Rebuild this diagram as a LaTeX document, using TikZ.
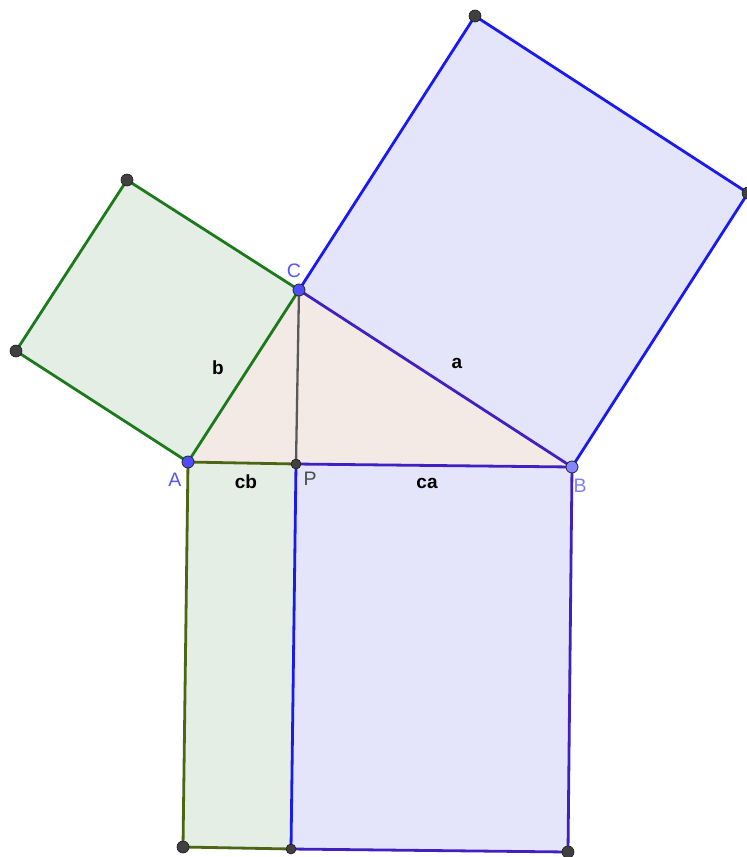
\documentclass[tikz,border=0pt]{standalone}
\usepackage{fontspec}
\setmainfont{Liberation Sans}
\begin{document}
\begin{tikzpicture}[x=1pt,y=-1pt,
  lab/.style={font=\fontsize{19.5}{22}\selectfont, inner sep=0pt},
  slab/.style={font=\fontsize{19}{22}\selectfont\bfseries, inner sep=0pt},
  bpt/.style={circle, fill=#1, draw=black!85, line width=0.8pt, minimum size=12pt, inner sep=0pt},
  gpt/.style={circle, fill=black!75, draw=black!90, line width=0.6pt, minimum size=12pt, inner sep=0pt},
  spt/.style={circle, fill=black!75, draw=black!90, line width=0.6pt, minimum size=10pt, inner sep=0pt},
  edge/.style={line width=2.8pt, line cap=round, line join=round}]
\definecolor{gstroke}{HTML}{1C7A1C}
\definecolor{bstroke}{HTML}{1A1AF0}
\definecolor{pstroke}{HTML}{4020C0}
\definecolor{ostroke}{HTML}{4B6614}
\definecolor{gfill}{HTML}{E4EEE5}
\definecolor{bfill}{HTML}{E4E4FB}
\definecolor{tfill}{HTML}{F3EAE6}
\definecolor{ptblue}{HTML}{4D4DFF}
\definecolor{ptlight}{HTML}{8585FF}
\definecolor{labblue}{HTML}{5555F5}
\definecolor{lablight}{HTML}{8080F5}
\useasboundingbox (0,0) rectangle (747,857);
\clip (0,0) rectangle (747,857);
% points
\coordinate (A) at (188,462);
\coordinate (B) at (572,467);
\coordinate (C) at (299,290);
\coordinate (P) at (296,464);
\coordinate (G1) at (127,180);
\coordinate (G2) at (16,351);
\coordinate (T1) at (475,16);
\coordinate (T2) at (748,193);
\coordinate (Ab) at (183,847);
\coordinate (Pb) at (291,849);
\coordinate (Bb) at (568,852);
% fills
\fill[gfill] (A) -- (C) -- (G1) -- (G2) -- cycle;
\fill[bfill] (C) -- (T1) -- (T2) -- (B) -- cycle;
\fill[tfill] (A) -- (B) -- (C) -- cycle;
\fill[gfill] (A) -- (P) -- (Pb) -- (Ab) -- cycle;
\fill[bfill] (P) -- (B) -- (Bb) -- (Pb) -- cycle;
% edges
\draw[edge, gstroke] (A) -- (C) -- (G1) -- (G2) -- cycle;
\draw[edge, bstroke] (C) -- (T1) -- (T2) -- (B);
\draw[edge, ostroke] (Pb) -- (Ab) -- (A) -- (P);
\draw[edge, pstroke] (P) -- (B) -- (Bb) -- (Pb);
\draw[edge, pstroke] (C) -- (B);
\draw[edge, bstroke] (P) -- (Pb);
\draw[line width=2.3pt, black!65] (C) -- (P);
% dots
\node[gpt] (g1) at (G1) {};
\node[gpt] (g2) at (G2) {};
\node[gpt] (t1) at (T1) {};
\node[gpt] (t2) at (T2) {};
\node[gpt] (ab) at (Ab) {};
\node[gpt] (bb) at (Bb) {};
\node[spt] (pb) at (Pb) {};
\node[spt] (pp) at (P) {};
\node[bpt=ptblue] (aa) at (A) {};
\node[bpt=ptblue] (cc) at (C) {};
\node[bpt=ptlight] (bbb) at (B) {};
% labels
\node[lab, text=labblue] (lA) at (175,480) {A};
\node[lab, text=labblue] (lC) at (294,271) {C};
\node[lab, text=lablight] (lB) at (580,486) {B};
\node[lab, text=black!70] (lP) at (310,479) {P};
\node[slab] (la) at (457,363) {a};
\node[slab] (lb) at (218,368) {b};
\node[slab] (lcb) at (246,482) {cb};
\node[slab] (lca) at (427,483) {ca};
\end{tikzpicture}
\end{document}
